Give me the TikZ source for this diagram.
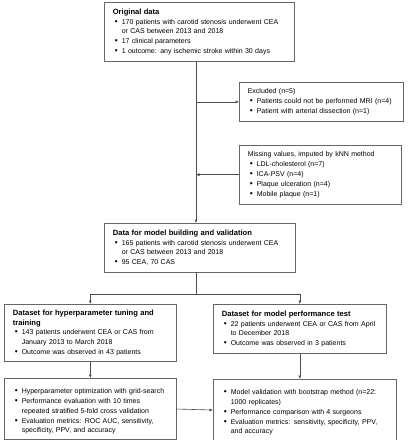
\documentclass[tikz,border=0pt]{standalone}
\usepackage{fontspec}
\setmainfont{Liberation Sans}
\usepackage{enumitem}
\usepackage{tikz}
\usepackage{xcolor}
\usetikzlibrary{arrows.meta}
\setlist[itemize]{nosep, leftmargin=9pt, labelsep=4pt, label={\scalebox{1.2}{\textbullet}}}
\newcommand{\boxtitle}[1]{{\fontsize{7.6}{10}\selectfont\bfseries #1}\par}
\tikzset{
    flow-box/.style = {draw=black!60, fill=white, line width=0.6pt, rectangle, anchor=north west, align=left, inner xsep=8.5pt, inner ysep=6.5pt, font=\fontsize{7}{9.8}\selectfont},
    flow-arrow/.style = {draw=black!70, line width=0.6pt, -{Latex[length=3.5pt,width=3pt]}},
    flow-line/.style = {draw=black!70, line width=0.6pt},
}

\begin{document}
\begin{tikzpicture}[x=1pt, y=-1pt]
\useasboundingbox (0,0) rectangle (408,440);
\coordinate (trunk) at (196,0);
\coordinate (split) at (196,294);

\node [flow-box, text width=173pt] (orig) at (104,2) {\boxtitle{Original data}
\begin{itemize}
    \item 170 patients with carotid stenosis underwent CEA\newline or CAS between 2013 and 2018
    \item 17 clinical parameters
    \item 1 outcome: any ischemic stroke within 30 days
\end{itemize}};

\node [flow-box, text width=147pt] (excl) at (239,82) {Excluded (n=5)
\begin{itemize}
    \item Patients could not be performed MRI (n=4)
    \item Patient with arterial dissection (n=1)
\end{itemize}};

\node [flow-box, text width=145pt] (miss) at (239,145) {Missing values, imputed by kNN method
\begin{itemize}
    \item LDL-cholesterol (n=7)
    \item ICA-PSV (n=4)
    \item Plaque ulceration (n=4)
    \item Mobile plaque (n=1)
\end{itemize}};

\node [flow-box, text width=174pt] (data) at (104,223) {\boxtitle{Data for model building and validation}
\begin{itemize}
    \item 165 patients with carotid stenosis underwent CEA\newline or CAS between 2013 and 2018
    \item 95 CEA, 70 CAS
\end{itemize}};

\node [flow-box, text width=155pt, inner ysep=5.5pt] (train) at (4,304) {\boxtitle{Dataset for hyperparameter tuning and\newline training}
\begin{itemize}
    \item 143 patients underwent CEA or CAS from\newline January 2013 to March 2018
    \item Outcome was observed in 43 patients
\end{itemize}};

\node [flow-box, text width=156pt] (test) at (213,304) {\boxtitle{Dataset for model performance test}
\begin{itemize}
    \item 22 patients underwent CEA or CAS from April\newline to December 2018
    \item Outcome was observed in 3 patients
\end{itemize}};

\node [flow-box, text width=155pt, inner ysep=5.5pt] (opt) at (4,378) {\begin{itemize}
    \item Hyperparameter optimization with grid-search
    \item Performance evaluation with 10 times\newline repeated stratified 5-fold cross validation
    \item Evaluation metrics: ROC AUC, sensitivity,\newline specificity, PPV, and accuracy
\end{itemize}};

\node [flow-box, text width=166pt, inner ysep=5.5pt] (valid) at (213,379) {\begin{itemize}
    \item Model validation with bootstrap method (n=22:\newline 1000 replicates)
    \item Performance comparison with 4 surgeons
    \item Evaluation metrics: sensitivity, specificity, PPV,\newline and accuracy
\end{itemize}};

% connectors
\draw [flow-arrow] (orig.south -| trunk) -- (data.north -| trunk);
\draw [flow-arrow] (trunk |- excl.west) -- (excl.west);
\draw [flow-arrow] (miss.west) -- (trunk |- miss.west);
\draw [flow-line] (data.south -| trunk) -- (split);
\draw [flow-arrow] (split) -| (train.north);
\draw [flow-arrow] (split) -| (test.north);
\draw [flow-arrow] (train.south) -- (opt.north);
\draw [flow-arrow] (test.south) -- (test.south |- valid.north);
\draw [flow-arrow] (opt.east) -- (valid.west);
\end{tikzpicture}
\end{document}
